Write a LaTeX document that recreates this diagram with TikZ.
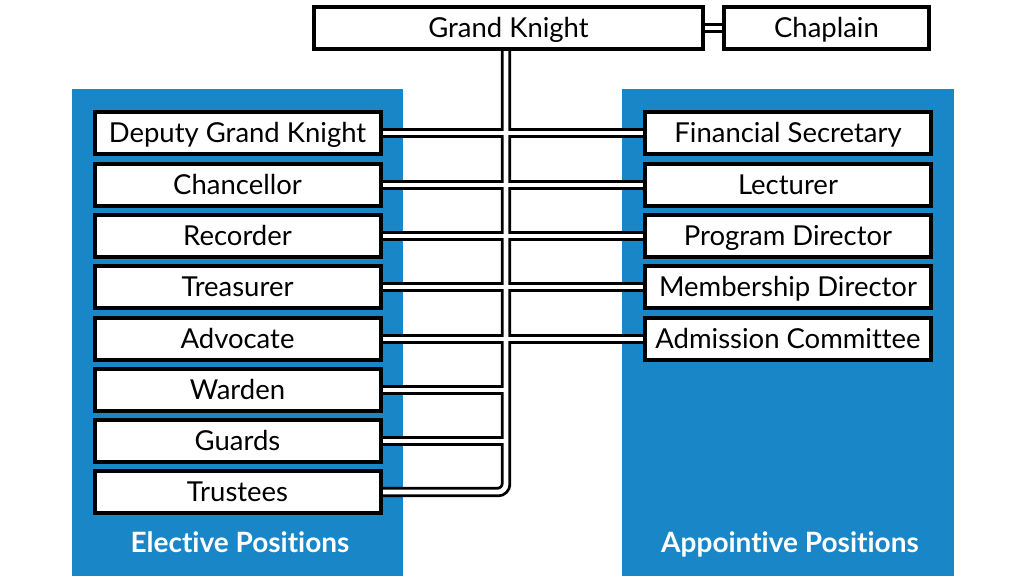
\documentclass[tikz,border=0pt]{standalone}
\usepackage{fontspec}
\setmainfont{Lato}[Ligatures=NoCommon]
\definecolor{kblue}{RGB}{24,134,199}
\pgfdeclarelayer{bg}
\pgfdeclarelayer{mid}
\pgfsetlayers{bg,mid,main}
\newcommand\linkpaths[1]{%
  \draw[#1] (tt) -- (tb) -- (trust.east);
  \foreach \n in {dgk,chan,rec,treas,adv,ward,guards}
    \draw[#1] (\n.east) -- (\n.east -| tt);
  \foreach \n in {fin,lect,prog,memb,adm}
    \draw[#1] (\n.west) -- (\n.west -| tt);
  \draw[#1] (gk.east) -- (chap.west);
}
\begin{document}
\begin{tikzpicture}[x=0.75pt,y=-0.75pt,
  posbox/.style={draw=black, line width=3pt, fill=white, minimum width=214.5pt,
    minimum height=31.5pt, inner sep=0pt, text height=14pt, text depth=0pt,
    font=\fontsize{20.6}{24}\selectfont},
  linkouter/.style={line width=7.8pt, black, rounded corners=6pt},
  linkinner/.style={line width=3.6pt, white, rounded corners=6pt},
  paneltitle/.style={text=white, inner sep=0pt, anchor=base, font=\bfseries\fontsize{21}{24}\selectfont}
]
\useasboundingbox (0,0) rectangle (1024,576);
\begin{pgfonlayer}{bg}
  \fill[white] (0,0) rectangle (1024,576);
  \fill[kblue] (72,89) rectangle (403,576);
  \fill[kblue] (622,89) rectangle (954,576);
\end{pgfonlayer}

\node[posbox, minimum width=291.75pt] (gk) at (508.5,28) {Grand Knight};
\node[posbox, minimum width=153.75pt] (chap) at (826.5,28) {Chaplain};

\node[posbox] (dgk)    at (237.5,133) {Deputy Grand Knight};
\node[posbox] (chan)   at (237.5,185) {Chancellor};
\node[posbox] (rec)    at (237.5,236) {Recorder};
\node[posbox] (treas)  at (237.5,287) {Treasurer};
\node[posbox] (adv)    at (237.5,339) {Advocate};
\node[posbox] (ward)   at (237.5,390) {Warden};
\node[posbox] (guards) at (237.5,441) {Guards};
\node[posbox] (trust)  at (237.5,492) {Trustees};

\node[posbox] (fin)  at (788,133) {Financial Secretary};
\node[posbox] (lect) at (788,185) {Lecturer};
\node[posbox] (prog) at (788,236) {Program Director};
\node[posbox] (memb) at (788,287) {Membership Director};
\node[posbox] (adm)  at (788,339) {Admission Committee};

\node[paneltitle] (elect) at (240,552) {Elective Positions};
\node[paneltitle] (appt)  at (790,552) {Appointive Positions};

\coordinate (tt) at (506,40);
\coordinate (tb) at (506,492);

\begin{pgfonlayer}{mid}
  \linkpaths{linkouter}
  \linkpaths{linkinner}
\end{pgfonlayer}
\end{tikzpicture}
\end{document}
